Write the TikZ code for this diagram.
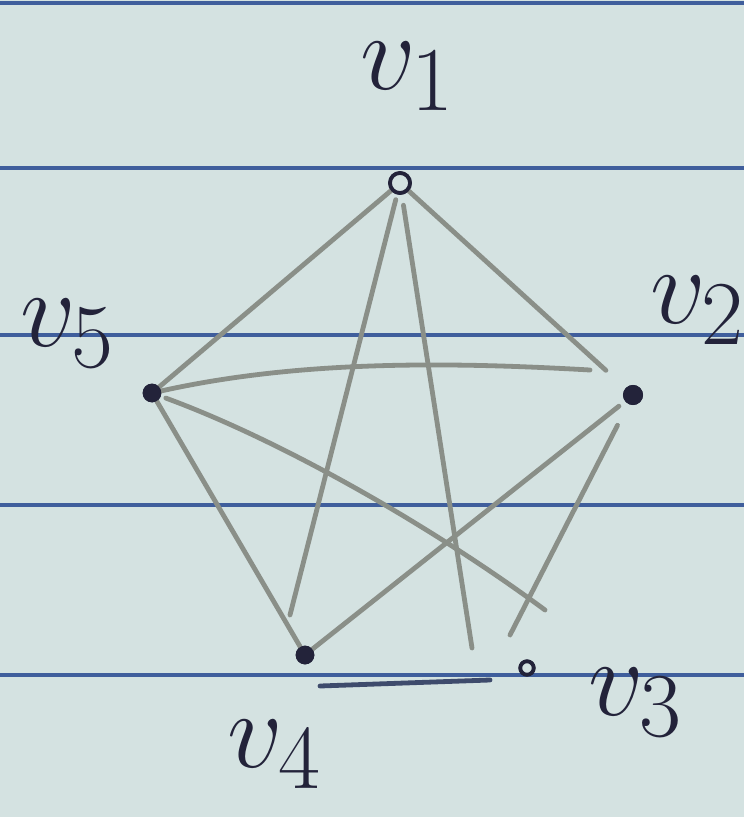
\documentclass[tikz,border=0pt]{standalone}
\definecolor{paper}{HTML}{D4E2E1}
\definecolor{rulecol}{HTML}{3F5E9C}
\definecolor{edgecol}{HTML}{8A8F88}
\definecolor{darkedge}{HTML}{3E4B6C}
\definecolor{ink}{HTML}{23233A}
\begin{document}
\begin{tikzpicture}[x=0.75pt,y=-0.75pt,
  rulestyle/.style={draw=rulecol, line width=3pt},
  edgeline/.style={draw=edgecol, line width=3.6pt, line cap=round},
  dotv/.style={circle, draw=ink, fill=ink, inner sep=0pt, line width=1pt},
  ringv/.style={circle, draw=ink, fill=paper, inner sep=0pt, line width=2.8pt},
  lbl/.style={text=ink, font=\Huge, scale=3.3, inner sep=0pt}]
\fill[paper] (0,0) rectangle (744,817);
\useasboundingbox (0,0) rectangle (744,817);
% ruled paper lines
\foreach \y in {3,168,335,505,675} \draw[rulestyle] (0,\y) -- (744,\y);
% vertices (positions)
\node[ringv, minimum size=15pt] (v1) at (400,183) {};
\node[dotv, minimum size=14pt] (v2) at (633,395) {};
\node[ringv, minimum size=10pt] (v3) at (527,668) {};
\node[dotv, minimum size=13pt] (v4) at (305,655) {};
\node[dotv, minimum size=13pt] (v5) at (152,393) {};
% free ends of the hand-drawn edges
\coordinate (c14) at (290,615);
\coordinate (c13) at (472,648);
\coordinate (c52) at (590,370);
\coordinate (c53) at (545,610);
\coordinate (c23) at (510,635);
\coordinate (c43a) at (320,686);
\coordinate (c43b) at (490,680);
% edges
\draw[edgeline] (v1) -- (v5);
\draw[edgeline, shorten <=4pt] (v1) -- (c14);
\draw[edgeline, shorten <=8pt] (v1) -- (c13);
\draw[edgeline, shorten >=20pt] (v1) -- (v2);
\draw[edgeline] (v5) .. controls (300,360) and (450,362) .. (c52);
\draw[edgeline, shorten <=4pt] (v5) .. controls (280,440) and (430,525) .. (c53);
\draw[edgeline] (v5) -- (v4);
\draw[edgeline, shorten <=6pt] (v2) -- (v4);
\draw[edgeline, shorten <=18pt] (v2) -- (c23);
\draw[edgeline, draw=darkedge] (c43a) -- (c43b);
% redraw vertices on top of the edges
\node[ringv, minimum size=15pt] at (v1) {};
\node[dotv, minimum size=14pt] at (v2) {};
\node[ringv, minimum size=10pt] at (v3) {};
\node[dotv, minimum size=13pt] at (v4) {};
\node[dotv, minimum size=13pt] at (v5) {};
% labels
\node[lbl] (l1) at (408,76) {$v_{1}$};
\node[lbl] (l2) at (698,310) {$v_{2}$};
\node[lbl] (l5) at (68,333) {$v_{5}$};
\node[lbl] (l3) at (636,702) {$v_{3}$};
\node[lbl] (l4) at (275,754) {$v_{4}$};
\end{tikzpicture}
\end{document}
